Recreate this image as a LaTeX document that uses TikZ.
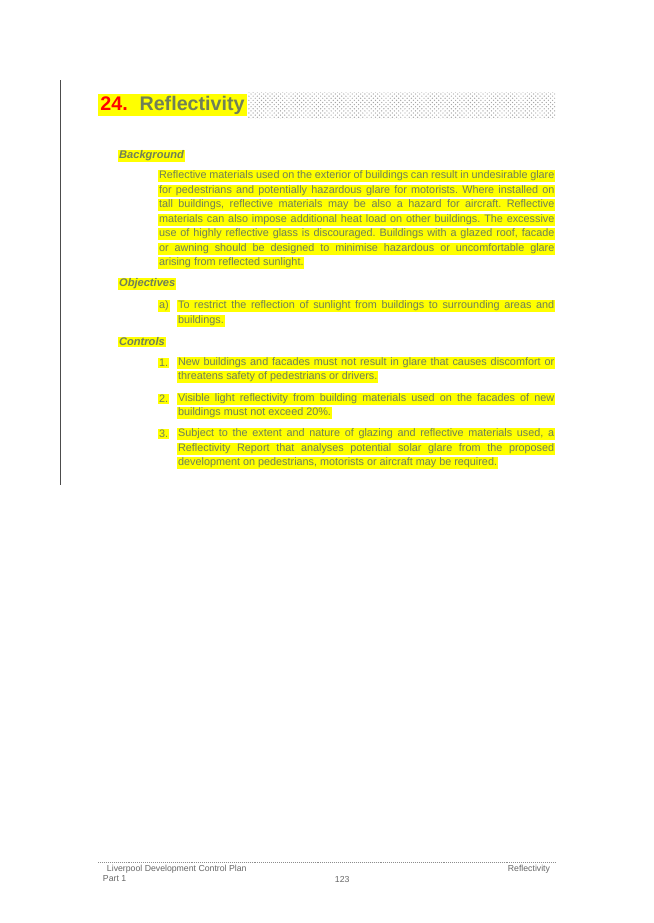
\documentclass[tikz,border=0pt]{standalone}
\usepackage{fontspec}
\setmainfont{Liberation Sans}
\usetikzlibrary{patterns}
\frenchspacing
\definecolor{txtgreen}{RGB}{112,128,88}
\definecolor{hlyellow}{RGB}{255,255,0}
\newcommand{\jline}[2]{\makebox[#1][s]{#2}}
\tikzset{
  hl/.style={fill=hlyellow, inner sep=0.6pt, anchor=west, text=txtgreen, font=\fontsize{7.7}{9}\selectfont},
  head/.style={hl, font=\fontsize{7.9}{9}\selectfont\bfseries\itshape},
  foot/.style={anchor=west, text=black!60, font=\fontsize{6.2}{7}\selectfont}
}
\begin{document}
\begin{tikzpicture}[x=0.025cm, y=-0.025cm]
\useasboundingbox (0,0) rectangle (653,923);

% Margin rule
\draw [black!70, line width=0.4pt] (60,80) -- (60,485);

% Title
\fill [pattern=crosshatch dots, pattern color=black!35] (248,92) rectangle (555,118);
\node [fill=hlyellow, anchor=west, inner sep=1.5pt, font=\fontsize{14}{16}\selectfont\bfseries] (title) at (98,105)
  {\textcolor{red}{24.}\hspace{0.6em}\textcolor{txtgreen}{Reflectivity}};

% Background
\node [head] (bg) at (118,156) {Background};
\node [hl] (b1) at (158,176) {\jline{9.88cm}{Reflective materials used on the exterior of buildings can result in undesirable glare}};
\node [hl] (b2) at (158,191) {\jline{9.88cm}{for pedestrians and potentially hazardous glare for motorists. Where installed on}};
\node [hl] (b3) at (158,205) {\jline{9.88cm}{tall buildings, reflective materials may be also a hazard for aircraft. Reflective}};
\node [hl] (b4) at (158,220) {\jline{9.88cm}{materials can also impose additional heat load on other buildings. The excessive}};
\node [hl] (b5) at (158,234) {\jline{9.88cm}{use of highly reflective glass is discouraged. Buildings with a glazed roof, facade}};
\node [hl] (b6) at (158,249) {\jline{9.88cm}{or awning should be designed to minimise hazardous or uncomfortable glare}};
\node [hl] (b7) at (158,263) {arising from reflected sunlight.};

% Objectives
\node [head] (obj) at (118,284) {Objectives};
\node [hl] (oa) at (158,306) {a)};
\node [hl] (oa1) at (177,306) {\jline{9.4cm}{To restrict the reflection of sunlight from buildings to surrounding areas and}};
\node [hl] (oa2) at (177,321) {buildings.};

% Controls
\node [head] (ctl) at (118,342) {Controls};
\node [hl] (c1) at (158,363) {1.};
\node [hl] (c11) at (177,363) {\jline{9.4cm}{New buildings and facades must not result in glare that causes discomfort or}};
\node [hl] (c12) at (177,377) {threatens safety of pedestrians or drivers.};
\node [hl] (c2) at (158,399) {2.};
\node [hl] (c21) at (177,399) {\jline{9.4cm}{Visible light reflectivity from building materials used on the facades of new}};
\node [hl] (c22) at (177,413) {buildings must not exceed 20\%.};
\node [hl] (c3) at (158,434) {3.};
\node [hl] (c31) at (177,434) {\jline{9.4cm}{Subject to the extent and nature of glazing and reflective materials used, a}};
\node [hl] (c32) at (177,449) {\jline{9.4cm}{Reflectivity Report that analyses potential solar glare from the proposed}};
\node [hl] (c33) at (177,463) {development on pedestrians, motorists or aircraft may be required.};

% Footer
\draw [black!45, densely dotted] (98,862) -- (555,862);
\node [foot] (fl) at (102,869) {Liverpool Development Control Plan};
\node [foot, anchor=east] (fr) at (555,869) {Reflectivity};
\node [foot] (fp) at (98,879) {Part 1};
\node [foot] (fn) at (330,879) {123};

\end{tikzpicture}
\end{document}
